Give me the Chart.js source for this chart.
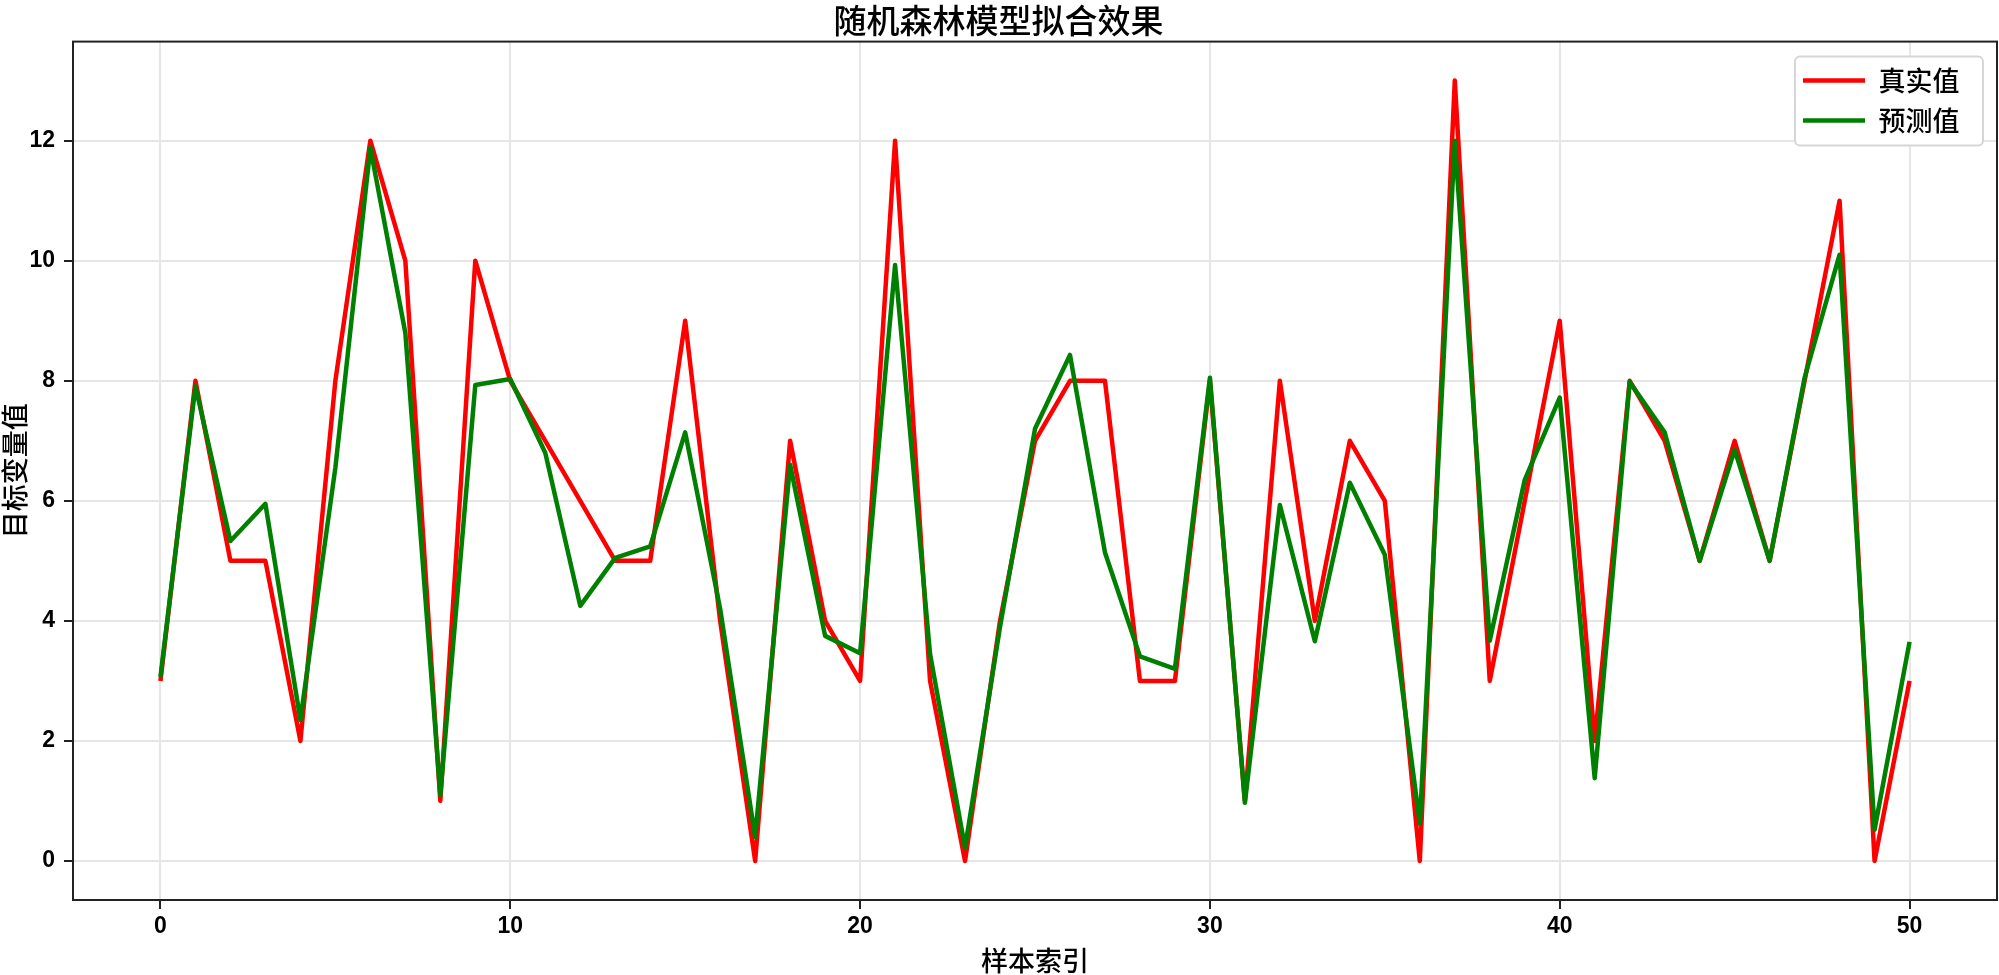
<!DOCTYPE html>
<html>
<head>
<meta charset="utf-8">
<script src="https://cdn.jsdelivr.net/npm/chart.js@4.4.1/dist/chart.umd.min.js"></script>
<style>
  html, body { margin: 0; padding: 0; background: #fff; }
  #wrap { width: 1999px; height: 975px; position: relative; }
</style>
</head>
<body>
<div id="wrap"><canvas id="fit"></canvas></div>
<script>
'use strict';

const sampleIndex = [0, 1, 2, 3, 4, 5, 6, 7, 8, 9, 10, 11, 12, 13, 14, 15, 16, 17, 18, 19, 20,
  21, 22, 23, 24, 25, 26, 27, 28, 29, 30, 31, 32, 33, 34, 35, 36, 37, 38, 39, 40,
  41, 42, 43, 44, 45, 46, 47, 48, 49, 50];

const trueValues = [3, 8, 5, 5, 2, 8, 12, 10, 1, 10, 8, 7, 6, 5, 5, 9, 4, 0, 7, 4, 3,
  12, 3, 0, 4, 7, 8, 8, 3, 3, 8, 1, 8, 4, 7, 6, 0, 13, 3, 6, 9,
  2, 8, 7, 5, 7, 5, 8, 11, 0, 3];

const predValues = [3.07, 7.91, 5.33, 5.95, 2.35, 6.55, 11.88, 8.8, 1.1, 7.93, 8.03,
  6.8, 4.25, 5.05, 5.24, 7.14, 4.2, 0.4, 6.6, 3.75, 3.46,
  9.93, 3.45, 0.22, 3.9, 7.2, 8.43, 5.14, 3.41, 3.2, 8.05,
  0.97, 5.93, 3.66, 6.3, 5.1, 0.62, 12.0, 3.67, 6.35, 7.72,
  1.38, 7.98, 7.14, 5.0, 6.85, 5.0, 8.05, 10.1, 0.52, 3.65];

const xTicks = [0, 10, 20, 30, 40, 50];
const yTicks = [0, 2, 4, 6, 8, 10, 12];

const CJK = '"Noto Sans CJK SC", "Noto Sans", sans-serif';
const NUM = '"Liberation Sans Narrow", "Liberation Sans", Arial, sans-serif';

// frame on all four sides + legend box (drawn over the grid)
const framePlugin = {
  id: 'frame',
  beforeDraw(chart) {
    const lg = chart.legend;
    if (!lg) return;
    const w = lg.width, h = lg.height;
    lg.left = chart.chartArea.right - 207;
    lg.top = chart.chartArea.top + 12.5;
    lg.right = lg.left + w;
    lg.bottom = lg.top + h;
  },
  afterDatasetsDraw(chart) {
    const {ctx, chartArea: a} = chart;
    const lg = chart.legend;
    const pad = lg.options.labels.padding;
    const x0 = lg.left + pad - 8;
    const y0 = lg.top + pad - 10.5;
    const x1 = a.right - 14;
    const y1 = y0 + 89;
    ctx.save();
    ctx.beginPath();
    ctx.roundRect(x0, y0, x1 - x0, y1 - y0, 5);
    ctx.fillStyle = '#ffffff';
    ctx.fill();
    ctx.lineWidth = 2;
    ctx.strokeStyle = '#d6d6d6';
    ctx.stroke();
    ctx.restore();
    lg.draw();

    ctx.save();
    ctx.lineWidth = 2;
    ctx.strokeStyle = '#222';
    ctx.strokeRect(a.left, a.top, a.right - a.left, a.bottom - a.top);
    ctx.restore();
  }
};

new Chart(document.getElementById('fit').getContext('2d'), {
  type: 'line',
  data: {
    labels: sampleIndex,
    datasets: [{
      label: '真实值',
      data: trueValues,
      borderColor: '#ff0000',
      backgroundColor: '#ff0000',
      borderWidth: 4.5,
      pointRadius: 0,
      tension: 0,
      borderJoinStyle: 'round',
      order: 2
    }, {
      label: '预测值',
      data: predValues,
      borderColor: '#008000',
      backgroundColor: '#008000',
      borderWidth: 4.5,
      pointRadius: 0,
      tension: 0,
      borderJoinStyle: 'round',
      order: 1
    }]
  },
  options: {
    animation: false,
    responsive: true,
    maintainAspectRatio: false,
    layout: { padding: { left: 0, right: 2, top: 0, bottom: 0 } },
    scales: {
      x: {
        type: 'linear',
        min: -2.5,
        max: 52.5,
        afterBuildTicks: s => { s.ticks = xTicks.map(v => ({ value: v })); },
        afterFit: s => { s.height = 75; },
        ticks: { color: '#000', font: { family: NUM, size: 23, weight: 'bold' }, padding: 4, maxRotation: 0 },
        grid: { color: '#e6e6e6', lineWidth: 2, tickColor: '#222', tickWidth: 2, tickLength: 9 },
        border: { color: '#222', width: 2 },
        title: { display: true, text: '样本索引', color: '#000', font: { family: CJK, size: 27, weight: 500, lineHeight: 1 }, padding: { top: 0, bottom: 0.5 } }
      },
      y: {
        min: -0.65,
        max: 13.65,
        afterBuildTicks: s => { s.ticks = yTicks.map(v => ({ value: v })); },
        afterFit: s => { s.width = 73; },
        ticks: { color: '#000', font: { family: NUM, size: 23, weight: 'bold' }, padding: 9 },
        grid: { color: '#e6e6e6', lineWidth: 2, tickColor: '#222', tickWidth: 2, tickLength: 9 },
        border: { color: '#222', width: 2 },
        title: { display: true, text: '目标变量值', color: '#000', font: { family: CJK, size: 27, weight: 500, lineHeight: 1 }, padding: { top: 1.5, bottom: 0 } }
      }
    },
    plugins: {
      title: {
        display: true,
        text: '随机森林模型拟合效果',
        color: '#000',
        font: { family: CJK, size: 33, weight: 500 },
        padding: { top: 1, bottom: 1 }
      },
      legend: {
        position: 'chartArea',
        align: 'start',
        labels: {
          usePointStyle: true,
          pointStyle: 'line',
          pointStyleWidth: 62,
          color: '#000',
          font: { family: CJK, size: 27, weight: 500 },
          padding: 13,
          sort: (a, b) => a.datasetIndex - b.datasetIndex
        }
      },
      tooltip: { enabled: false }
    }
  },
  plugins: [framePlugin]
});
</script>
</body>
</html>
